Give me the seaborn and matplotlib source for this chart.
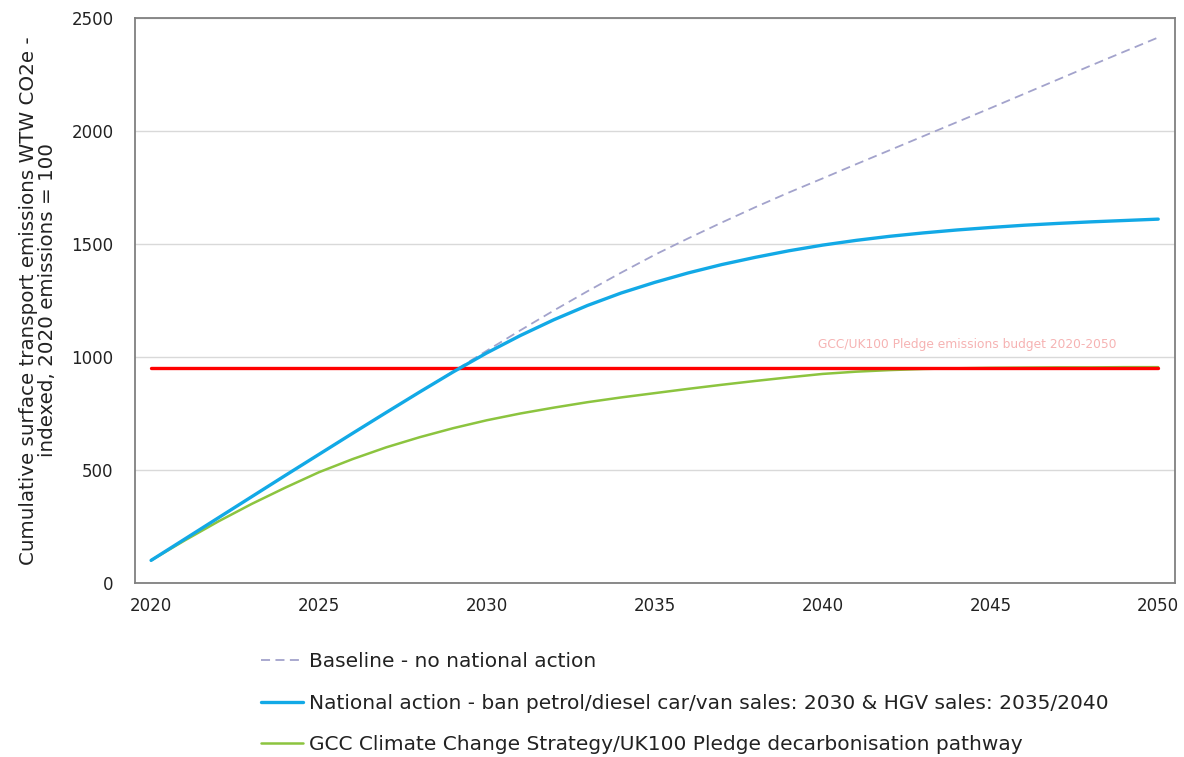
import matplotlib
matplotlib.use("Agg")
import matplotlib.pyplot as plt
import seaborn as sns
import pandas as pd

years = list(range(2020, 2051))

baseline = [100, 194, 288, 382, 476, 569, 662, 754, 845, 936,
            1028, 1118, 1206, 1291, 1373, 1452, 1525, 1595, 1663, 1728,
            1790, 1853, 1915, 1977, 2039, 2101, 2164, 2227, 2290, 2352, 2414]

national = [100, 194, 288, 382, 476, 569, 662, 754, 845, 934,
            1018, 1095, 1165, 1228, 1283, 1330, 1372, 1409, 1441, 1470,
            1495, 1516, 1534, 1549, 1562, 1573, 1583, 1591, 1598, 1604, 1610]

gcc_pathway = [100, 188, 272, 350, 422, 490, 548, 600, 645, 685,
               720, 750, 776, 800, 821, 840, 859, 877, 894, 910,
               925, 935, 942, 947, 950, 952, 953, 954, 954, 955, 955]

budget = 950
budget_label = "GCC/UK100 Pledge emissions budget 2020-2050"

series_names = [
    "Baseline - no national action",
    "National action - ban petrol/diesel car/van sales: 2030 & HGV sales: 2035/2040",
    "GCC Climate Change Strategy/UK100 Pledge decarbonisation pathway",
]

y_ticks = [0, 500, 1000, 1500, 2000, 2500]
x_ticks = [2020, 2025, 2030, 2035, 2040, 2045, 2050]

df = pd.DataFrame({
    "year": years * 3,
    "value": baseline + national + gcc_pathway,
    "series": [series_names[0]] * len(years)
              + [series_names[1]] * len(years)
              + [series_names[2]] * len(years),
})

sns.set_style("white")
plt.rcParams["font.family"] = ["DejaVu Sans"]

fig = plt.figure(figsize=(11.84, 7.57), dpi=100)
ax = fig.add_axes([0.114, 0.2299, 0.8784, 0.7463])

palette = {series_names[0]: "#a3a3cc",
           series_names[1]: "#12a9e6",
           series_names[2]: "#8cc43f"}
widths = {series_names[0]: 1.3, series_names[1]: 2.4, series_names[2]: 1.8}
zorders = {series_names[0]: 3, series_names[1]: 5, series_names[2]: 3}

handles = []
for name in series_names:
    sub = df[df["series"] == name]
    sns.lineplot(data=sub, x="year", y="value", ax=ax, color=palette[name],
                 linewidth=widths[name], legend=False, zorder=zorders[name])
    line = ax.lines[-1]
    if name == series_names[0]:
        line.set_dashes([5, 3])
    handles.append(line)

# budget reference line
sns.lineplot(x=years, y=[budget] * len(years), ax=ax, color="#ff0000",
             linewidth=2.4, legend=False, zorder=4)

ax.text(2044.3, budget + 105, budget_label, color="#f6b3b3", fontsize=8.8,
        ha="center", va="center")

ax.set_xlim(2019.52, 2050.5)
ax.set_ylim(0, 2500)
ax.set_xticks(x_ticks)
ax.set_yticks(y_ticks)
ax.tick_params(axis="both", length=0, labelsize=12, colors="#222222")
ax.tick_params(axis="y", pad=15.5)
ax.tick_params(axis="x", pad=10)
ax.yaxis.grid(True, color="#d9d9d9", linewidth=1.0)
ax.set_axisbelow(True)
for sp in ax.spines.values():
    sp.set_color("#808080")
    sp.set_linewidth(1.3)

ax.set_xlabel("")
ax.set_ylabel("Cumulative surface transport emissions WTW CO2e -\nindexed, 2020 emissions = 100",
              fontsize=14.3, color="#222222", labelpad=10, linespacing=1.0)

leg = fig.legend(handles, series_names, loc="upper left",
                 bbox_to_anchor=(261 / 1184, 1 - 652 / 757),
                 frameon=False, fontsize=14.5, handlelength=2.1,
                 handletextpad=0.3, labelspacing=1.12, borderaxespad=0,
                 borderpad=0)
for t in leg.get_texts():
    t.set_color("#222222")

fig.savefig("out.png", dpi=100)
